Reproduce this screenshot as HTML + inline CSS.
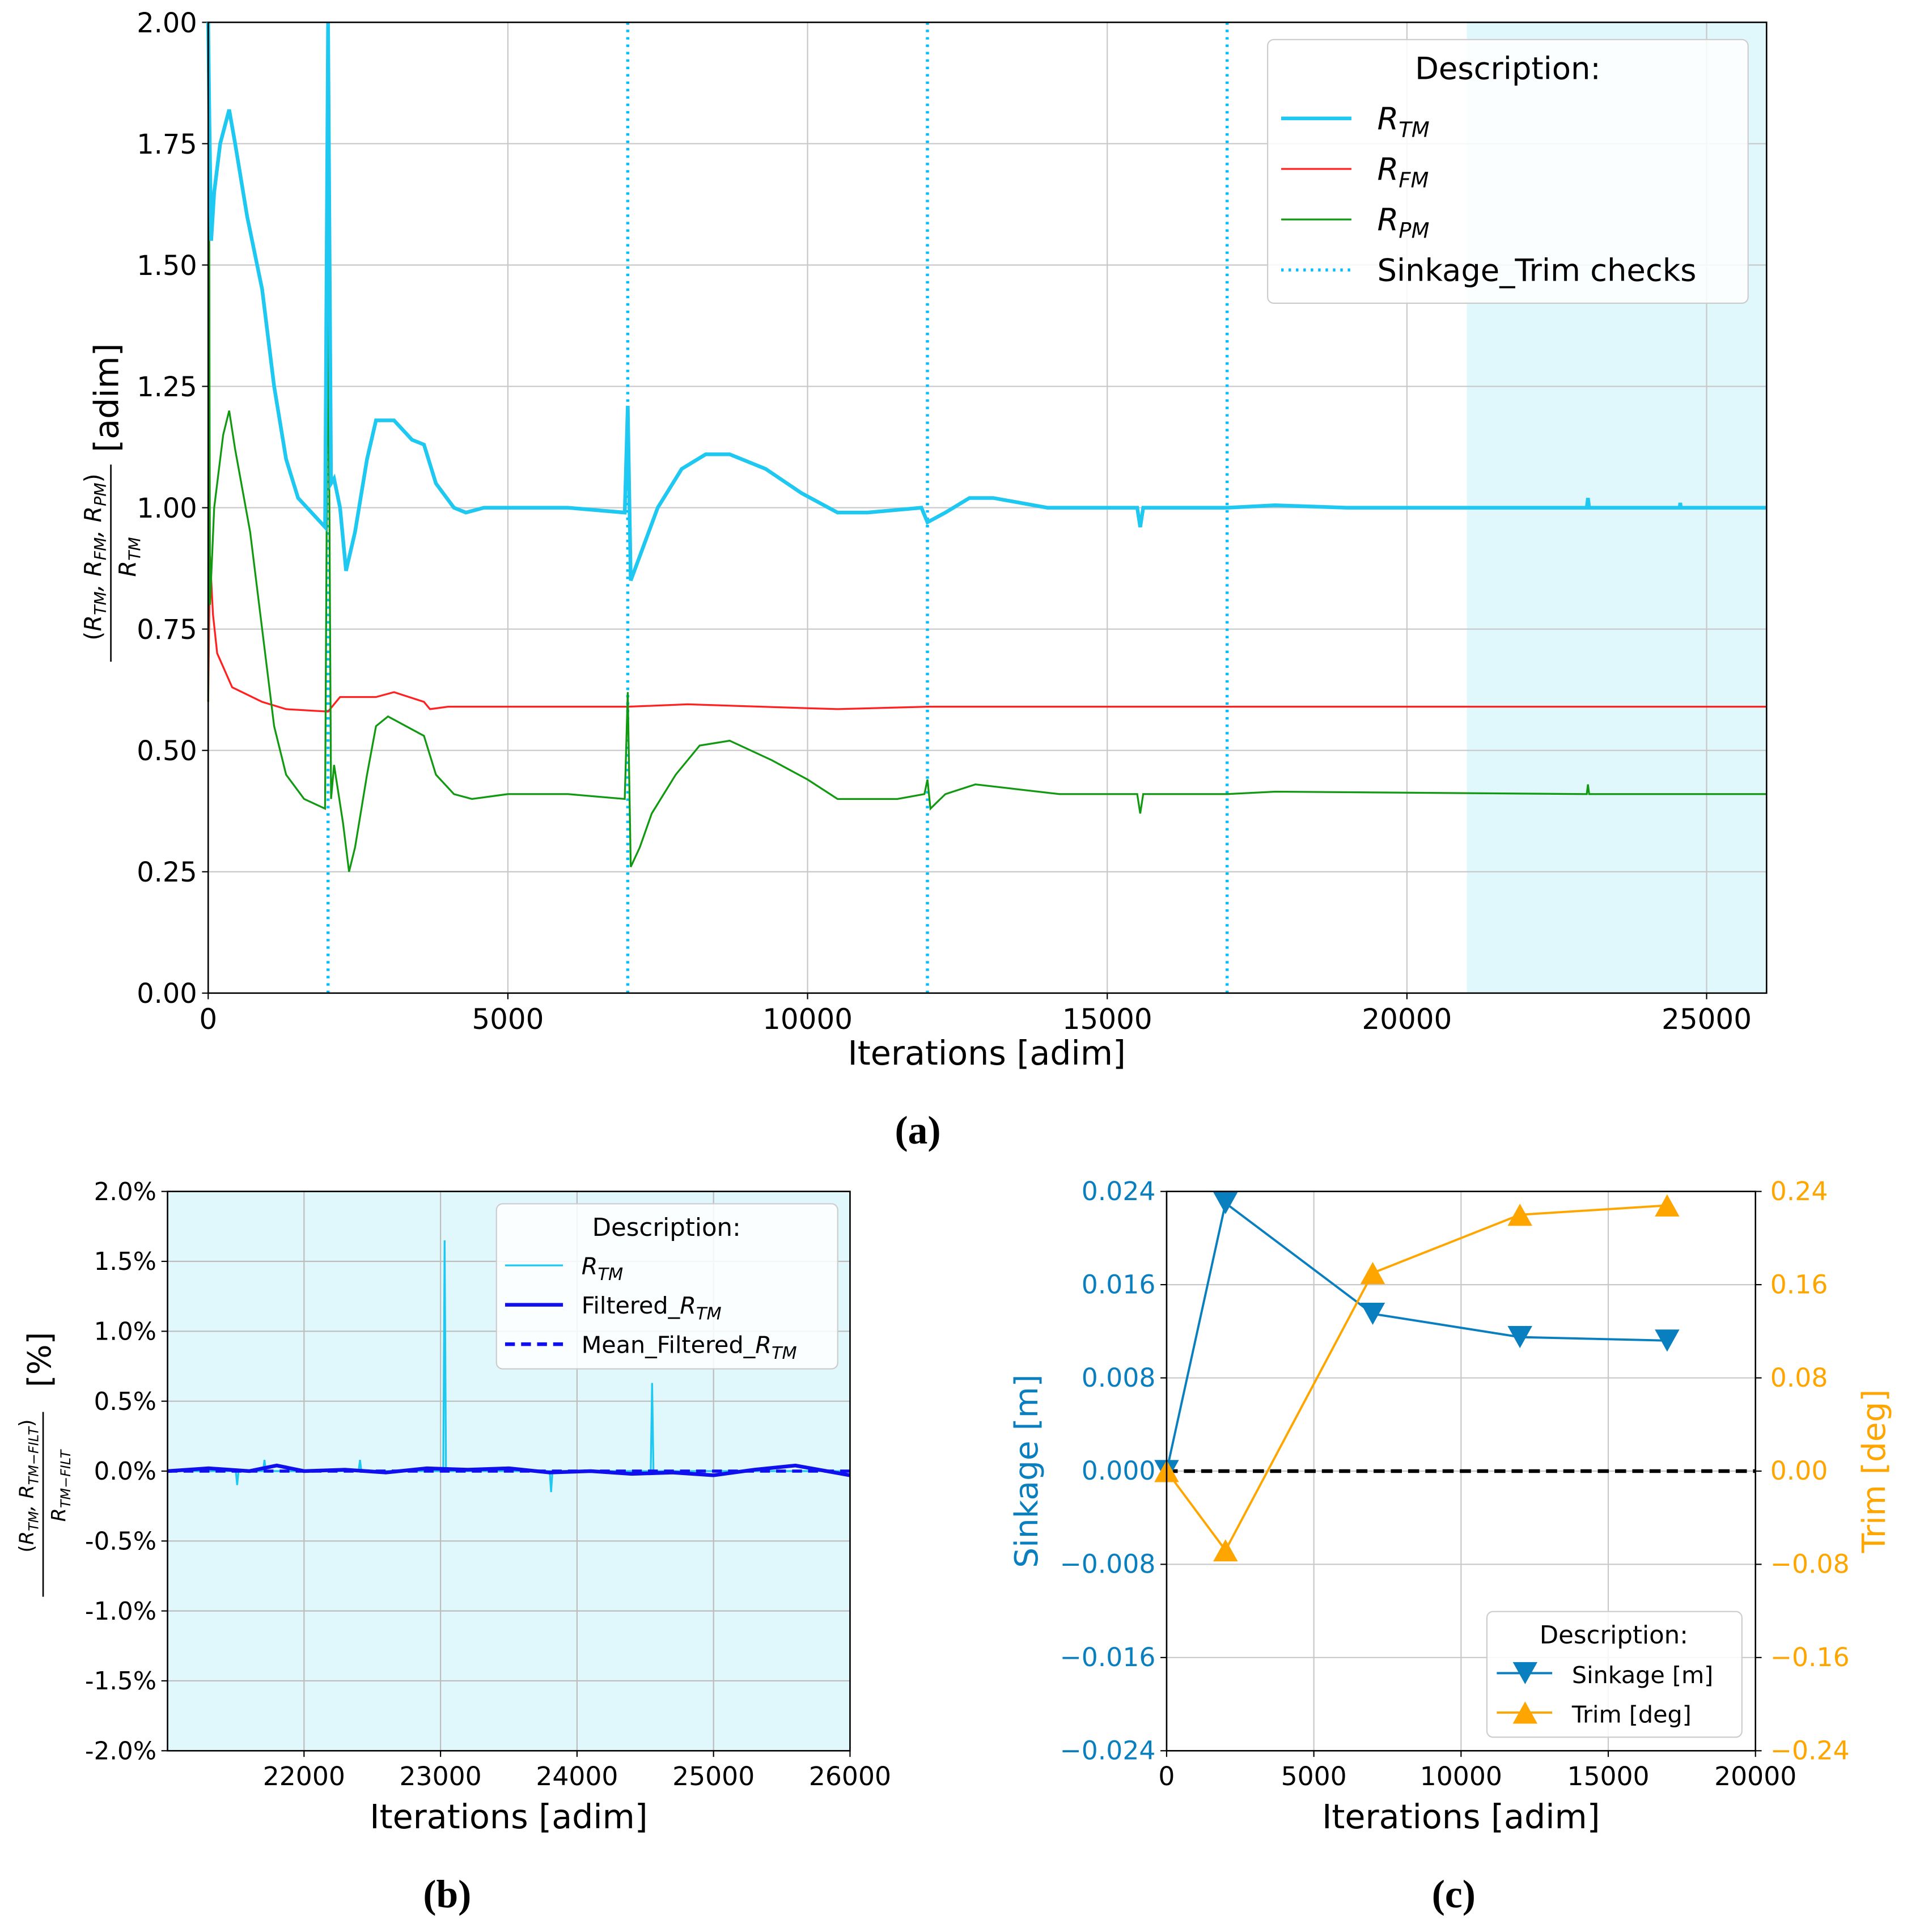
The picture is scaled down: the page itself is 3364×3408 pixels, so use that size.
<!DOCTYPE html>
<html><head><meta charset="utf-8">
<style>
html,body{margin:0;padding:0;background:#fff;}
svg{display:block;font-family:"DejaVu Sans","Liberation Sans",sans-serif;}
</style></head>
<body>
<svg id="s" width="3364" height="3408" viewBox="0 0 1548 1568" xmlns="http://www.w3.org/2000/svg"></svg>
<script>
// ---------- Data: panel (a) ----------
const aRtmX=[0,20,50,100,200,350,450,650,900,1100,1300,1500,1800,1950,2000,2050,2100,2200,2300,2450,2650,2800,3100,3400,3600,3800,4100,4300,4600,6000,6950,7000,7050,7200,7500,7900,8300,8700,9300,9900,10500,11000,11900,12000,12300,12700,13100,14000,15500,15550,15600,17000,17800,19000,23000,23020,23040,24550,24560,24570,26000];
const aRtmY=[2.0,1.8,1.55,1.65,1.75,1.82,1.75,1.6,1.45,1.25,1.1,1.02,0.98,0.96,2.0,1.05,1.06,1.0,0.87,0.95,1.1,1.18,1.18,1.14,1.13,1.05,1.0,0.99,1.0,1.0,0.99,1.21,0.85,0.9,1.0,1.08,1.11,1.11,1.08,1.03,0.99,0.99,1.0,0.97,0.99,1.02,1.02,1.0,1.0,0.96,1.0,1.0,1.005,1.0,1.0,1.02,1.0,1.0,1.01,1.0,1.0];
const aRfmX=[0,30,80,150,400,900,1300,2000,2200,2800,3100,3600,3700,4000,7000,8000,10500,12000,26000];
const aRfmY=[0.6,0.9,0.78,0.7,0.63,0.6,0.585,0.58,0.61,0.61,0.62,0.6,0.585,0.59,0.59,0.595,0.585,0.59,0.59];
const aRpmX=[0,10,30,100,250,350,450,700,900,1100,1300,1600,1950,2000,2050,2100,2250,2350,2450,2650,2800,3000,3300,3600,3800,4100,4400,5000,6000,6950,7000,7050,7200,7400,7800,8200,8700,9400,10000,10500,11500,11950,12000,12050,12300,12800,13500,14200,15500,15550,15600,17000,17800,23000,23020,23040,26000];
const aRpmY=[0.6,2.0,0.8,1.0,1.15,1.2,1.12,0.95,0.75,0.55,0.45,0.4,0.38,1.47,0.4,0.47,0.35,0.25,0.3,0.45,0.55,0.57,0.55,0.53,0.45,0.41,0.4,0.41,0.41,0.4,0.62,0.26,0.3,0.37,0.45,0.51,0.52,0.48,0.44,0.4,0.4,0.41,0.44,0.38,0.41,0.43,0.42,0.41,0.41,0.37,0.41,0.41,0.415,0.41,0.43,0.41,0.41];
const aChecks=[2000,7000,12000,17000];
const aXTicks=[0,5000,10000,15000,20000,25000];
const aYTicks=[0,0.25,0.5,0.75,1.0,1.25,1.5,1.75,2.0];
// ---------- Data: panel (b) ----------
const bRtmX=[21000,21500,21510,21520,21700,21710,21720,22400,22410,22420,23020,23030,23040,23800,23810,23820,24540,24550,24560,25000,26000];
const bRtmY=[0,0,-0.1,0,0,0.08,0,0,0.08,0,0,1.65,0,0,-0.15,0,0,0.63,0,0,0];
const bFiltX=[21000,21300,21600,21800,22000,22300,22600,22900,23200,23500,23800,24100,24400,24700,25000,25300,25600,26000];
const bFiltY=[0,0.02,0,0.04,0,0.01,-0.01,0.02,0.01,0.02,-0.01,0,-0.02,-0.01,-0.03,0.01,0.04,-0.03];
const bMean=[0];
const bXTicks=[22000,23000,24000,25000,26000];
const bYTicks=[-2,-1.5,-1,-0.5,0,0.5,1,1.5,2];
// ---------- Data: panel (c) ----------
const cIter=[0,2000,7000,12000,17000];
const cSink=[0.0,0.023,0.0135,0.0115,0.0112];
const cTrim=[0.0,-0.068,0.17,0.22,0.228];
const cXTicks=[0,5000,10000,15000,20000];
const cYTicks=[-0.024,-0.016,-0.008,0,0.008,0.016,0.024];
const cY2Ticks=[-0.24,-0.16,-0.08,0,0.08,0.16,0.24];

const S=document.getElementById('s');
const NS='http://www.w3.org/2000/svg';
function el(tag,attrs,parent,name,inter){
  const e=document.createElementNS(NS,tag);
  for(const k in attrs)e.setAttribute(k,attrs[k]);
  
  
  (parent||S).appendChild(e);return e;
}
function txt(x,y,s,size,anchor,parent,name,fill,extra){
  const t=el('text',Object.assign({x:x,y:y,'font-size':size,'text-anchor':anchor||'middle',fill:fill||'#000'},extra||{}),parent,name,false);
  t.innerHTML=s;return t;
}
function lin(d0,d1,r0,r1){return v=>r0+(v-d0)/(d1-d0)*(r1-r0);}
function path(xs,ys,fx,fy){return xs.map((x,i)=>(i?'L':'M')+fx(x).toFixed(2)+','+fy(ys[i]).toFixed(2)).join(' ');}

// ================= Panel (a) =================
(function(){
  const g=el('g',{},S,'panel-a',false);
  const L=169,R=1434,T=18,B=806;
  const fx=lin(0,26000,L,R), fy=lin(0,2,B,T);
  el('rect',{x:fx(21000),y:T,width:R-fx(21000),height:B-T,fill:'#e0f7fc'},g,'converged-region-shade',false);
  aXTicks.forEach(v=>{
    el('line',{x1:fx(v),x2:fx(v),y1:T,y2:B,stroke:'#c8c8c8','stroke-width':1},g,'x-gridline',false);
    el('line',{x1:fx(v),x2:fx(v),y1:B,y2:B+5,stroke:'#000'},g,'x-tick',false);
    txt(fx(v),B+29,String(v),23,'middle',g,'x-tick-label');
  });
  aYTicks.forEach(v=>{
    el('line',{x1:L,x2:R,y1:fy(v),y2:fy(v),stroke:'#c8c8c8','stroke-width':1},g,'y-gridline',false);
    el('line',{x1:L-5,x2:L,y1:fy(v),y2:fy(v),stroke:'#000'},g,'y-tick',false);
    txt(L-9,fy(v)+8,v.toFixed(2),22,'end',g,'y-tick-label');
  });
  aChecks.forEach(v=>el('line',{x1:fx(v),x2:fx(v),y1:T,y2:B,stroke:'#00bfff','stroke-width':2.5,'stroke-dasharray':'2,4'},g,'sinkage-trim-check-line',false));
  el('path',{d:path(aRfmX,aRfmY,fx,fy),fill:'none',stroke:'#ff2020','stroke-width':1.5},g,'rfm-line',false);
  el('path',{d:path(aRpmX,aRpmY,fx,fy),fill:'none',stroke:'#119911','stroke-width':1.5},g,'rpm-line',false);
  el('path',{d:path(aRtmX,aRtmY,fx,fy),fill:'none',stroke:'#1ec8f0','stroke-width':3},g,'rtm-line',false);
  el('rect',{x:L,y:T,width:R-L,height:B-T,fill:'none',stroke:'#000','stroke-width':1.2},g,'plot-frame',false);
  txt(801,864,'Iterations [adim]',27,'middle',g,'x-axis-title');
  const yl=el('g',{transform:'translate(90,412) rotate(-90)'},g,'y-axis-title',false);
  txt(45,6,'[adim]',27,'start',yl,'y-axis-unit');
  txt(-40,-8,'(<tspan font-style="italic">R<tspan font-size="13" dy="4">TM</tspan><tspan dy="-4">, R</tspan><tspan font-size="13" dy="4">FM</tspan><tspan dy="-4">, R</tspan><tspan font-size="13" dy="4">PM</tspan></tspan><tspan dy="-4">)</tspan>',19,'middle',yl,'y-axis-numerator');
  el('line',{x1:-125,x2:35,y1:0,y2:0,stroke:'#000','stroke-width':1.2},yl,'y-axis-fraction-bar',false);
  txt(-40,20,'<tspan font-style="italic">R<tspan font-size="13" dy="4">TM</tspan></tspan>',19,'middle',yl,'y-axis-denominator');
  // legend
  const lg=el('g',{},g,'legend',false);
  el('rect',{x:1029,y:32,width:390,height:214,rx:5,fill:'#fff','fill-opacity':0.85,stroke:'#ccc'},lg,'legend-box',false);
  txt(1224,64,'Description:',25,'middle',lg,'legend-title');
  const items=[['#1ec8f0',3,null,'R<tspan font-size="17" dy="6">TM</tspan>','legend-entry-rtm'],['#ff2020',1.5,null,'R<tspan font-size="17" dy="6">FM</tspan>','legend-entry-rfm'],['#119911',1.5,null,'R<tspan font-size="17" dy="6">PM</tspan>','legend-entry-rpm'],['#00bfff',2.5,'2,4','Sinkage_Trim checks','legend-entry-checks']];
  items.forEach((it,i)=>{
    const y=96+i*41;
    const a={x1:1040,x2:1097,y1:y,y2:y,stroke:it[0],'stroke-width':it[1]};if(it[2])a['stroke-dasharray']=it[2];
    el('line',a,lg,it[4]+'-swatch',false);
    txt(1118,y+9,it[3],25,'start',lg,it[4],null,i<3?{'font-style':'italic'}:{});
  });
})();
txt(745,928,'(a)',32,'middle',S,'panel-a-caption',null,{'font-family':'"Liberation Serif",serif','font-weight':'bold'});

// ================= Panel (b) =================
(function(){
  const g=el('g',{},S,'panel-b',false);
  const L=136,R=690,T=967,B=1421;
  const fx=lin(21000,26000,L,R), fy=lin(-2,2,B,T);
  el('rect',{x:L,y:T,width:R-L,height:B-T,fill:'#e0f7fc'},g,'plot-background',false);
  bXTicks.forEach(v=>{
    el('line',{x1:fx(v),x2:fx(v),y1:T,y2:B,stroke:'#bcbcbc'},g,'x-gridline',false);
    el('line',{x1:fx(v),x2:fx(v),y1:B,y2:B+5,stroke:'#000'},g,'x-tick',false);
    txt(fx(v),B+28,String(v),21,'middle',g,'x-tick-label');
  });
  bYTicks.forEach(v=>{
    el('line',{x1:L,x2:R,y1:fy(v),y2:fy(v),stroke:'#bcbcbc'},g,'y-gridline',false);
    el('line',{x1:L-5,x2:L,y1:fy(v),y2:fy(v),stroke:'#000'},g,'y-tick',false);
    txt(L-9,fy(v)+7,v.toFixed(1)+'%',20,'end',g,'y-tick-label');
  });
  el('path',{d:path(bRtmX,bRtmY,fx,fy),fill:'none',stroke:'#1ec8f0','stroke-width':1.5},g,'rtm-line',false);
  el('path',{d:path(bFiltX,bFiltY,fx,fy),fill:'none',stroke:'#1010ee','stroke-width':3},g,'filtered-rtm-line',false);
  el('line',{x1:L,x2:R,y1:fy(bMean[0]),y2:fy(bMean[0]),stroke:'#1010ee','stroke-width':2.5,'stroke-dasharray':'8,5'},g,'mean-filtered-rtm-line',false);
  el('rect',{x:L,y:T,width:R-L,height:B-T,fill:'none',stroke:'#000','stroke-width':1.2},g,'plot-frame',false);
  txt(413,1484,'Iterations [adim]',27,'middle',g,'x-axis-title');
  const yl=el('g',{transform:'translate(35,1196) rotate(-90)'},g,'y-axis-title',false);
  txt(70,6,'[%]',26,'start',yl,'y-axis-unit');
  txt(-10,-8,'(<tspan font-style="italic">R<tspan font-size="11" dy="4">TM</tspan><tspan dy="-4">, R</tspan><tspan font-size="11" dy="4">TM−FILT</tspan></tspan><tspan dy="-4">)</tspan>',16,'middle',yl,'y-axis-numerator');
  el('line',{x1:-100,x2:50,y1:0,y2:0,stroke:'#000','stroke-width':1.2},yl,'y-axis-fraction-bar',false);
  txt(-10,18,'<tspan font-style="italic">R<tspan font-size="11" dy="4">TM−FILT</tspan></tspan>',16,'middle',yl,'y-axis-denominator');
  const lg=el('g',{},g,'legend',false);
  el('rect',{x:403,y:977,width:277,height:134,rx:5,fill:'#fff','fill-opacity':0.85,stroke:'#ccc'},lg,'legend-box',false);
  txt(541,1003,'Description:',20,'middle',lg,'legend-title');
  const items=[['#1ec8f0',1.5,null,'<tspan font-style="italic">R<tspan font-size="14" dy="5">TM</tspan></tspan>','legend-entry-rtm'],['#1010ee',3,null,'Filtered_<tspan font-style="italic">R<tspan font-size="14" dy="5">TM</tspan></tspan>','legend-entry-filtered'],['#1010ee',3,'8,5','Mean_Filtered_<tspan font-style="italic">R<tspan font-size="14" dy="5">TM</tspan></tspan>','legend-entry-mean']];
  items.forEach((it,i)=>{
    const y=1027+i*32;
    const a={x1:410,x2:457,y1:y,y2:y,stroke:it[0],'stroke-width':it[1]};if(it[2])a['stroke-dasharray']=it[2];
    el('line',a,lg,it[4]+'-swatch',false);
    txt(472,y+7,it[3],19,'start',lg,it[4]);
  });
})();
txt(363,1548,'(b)',32,'middle',S,'panel-b-caption',null,{'font-family':'"Liberation Serif",serif','font-weight':'bold'});

// ================= Panel (c) =================
(function(){
  const g=el('g',{},S,'panel-c',false);
  const L=947,R=1425,T=967,B=1421;
  const fx=lin(0,20000,L,R), fy=lin(-0.024,0.024,B,T), fy2=lin(-0.24,0.24,B,T);
  const blue='#0a7fc0', orange='#ffa500';
  cXTicks.forEach(v=>{
    el('line',{x1:fx(v),x2:fx(v),y1:T,y2:B,stroke:'#c8c8c8'},g,'x-gridline',false);
    el('line',{x1:fx(v),x2:fx(v),y1:B,y2:B+5,stroke:'#000'},g,'x-tick',false);
    txt(fx(v),B+28,String(v),21,'middle',g,'x-tick-label');
  });
  cYTicks.forEach(v=>{
    el('line',{x1:L,x2:R,y1:fy(v),y2:fy(v),stroke:'#c8c8c8'},g,'y-gridline',false);
    el('line',{x1:L-5,x2:L,y1:fy(v),y2:fy(v),stroke:'#000'},g,'y-tick',false);
    txt(L-9,fy(v)+7,(v<0?'−':'')+Math.abs(v).toFixed(3),21,'end',g,'y-tick-label',blue);
  });
  cY2Ticks.forEach(v=>{
    el('line',{x1:R,x2:R+5,y1:fy2(v),y2:fy2(v),stroke:'#000'},g,'y2-tick',false);
    txt(R+12,fy2(v)+7,(v<0?'−':'')+Math.abs(v).toFixed(2),21,'start',g,'y2-tick-label',orange);
  });
  el('line',{x1:L,x2:R,y1:fy(0),y2:fy(0),stroke:'#000','stroke-width':3,'stroke-dasharray':'9,5'},g,'zero-line',false);
  el('path',{d:path(cIter,cSink,fx,fy),fill:'none',stroke:blue,'stroke-width':1.8},g,'sinkage-line',false);
  el('path',{d:path(cIter,cTrim,fx,fy2),fill:'none',stroke:orange,'stroke-width':1.8},g,'trim-line',false);
  cIter.forEach((x,i)=>{
    const X=fx(x),Y=fy(cSink[i]);
    el('path',{d:`M${X-10},${Y-9} L${X+10},${Y-9} L${X},${Y+9} Z`,fill:blue},g,'sinkage-marker',false);
    const X2=fx(x),Y2=fy2(cTrim[i]);
    el('path',{d:`M${X2-10},${Y2+9} L${X2+10},${Y2+9} L${X2},${Y2-9} Z`,fill:orange},g,'trim-marker',false);
  });
  el('rect',{x:L,y:T,width:R-L,height:B-T,fill:'none',stroke:'#000','stroke-width':1.2},g,'plot-frame',false);
  txt(1186,1484,'Iterations [adim]',27,'middle',g,'x-axis-title');
  txt(0,0,'Sinkage [m]',26,'middle',g,'y-axis-title',blue,{transform:'translate(842,1194) rotate(-90)'});
  txt(0,0,'Trim [deg]',26,'middle',g,'y2-axis-title',orange,{transform:'translate(1530,1194) rotate(-90)'});
  const lg=el('g',{},g,'legend',false);
  el('rect',{x:1207,y:1308,width:207,height:102,rx:5,fill:'#fff','fill-opacity':0.85,stroke:'#ccc'},lg,'legend-box',false);
  txt(1310,1334,'Description:',20,'middle',lg,'legend-title');
  el('line',{x1:1215,x2:1260,y1:1358,y2:1358,stroke:blue,'stroke-width':1.8},lg,'legend-sinkage-swatch',false);
  el('path',{d:'M1228,1349 L1248,1349 L1238,1367 Z',fill:blue},lg,'legend-sinkage-marker',false);
  txt(1276,1366,'Sinkage [m]',19,'start',lg,'legend-entry-sinkage');
  el('line',{x1:1215,x2:1260,y1:1390,y2:1390,stroke:orange,'stroke-width':1.8},lg,'legend-trim-swatch',false);
  el('path',{d:'M1228,1399 L1248,1399 L1238,1381 Z',fill:orange},lg,'legend-trim-marker',false);
  txt(1276,1398,'Trim [deg]',19,'start',lg,'legend-entry-trim');
})();
txt(1180,1548,'(c)',32,'middle',S,'panel-c-caption',null,{'font-family':'"Liberation Serif",serif','font-weight':'bold'});
</script>
</body></html>
